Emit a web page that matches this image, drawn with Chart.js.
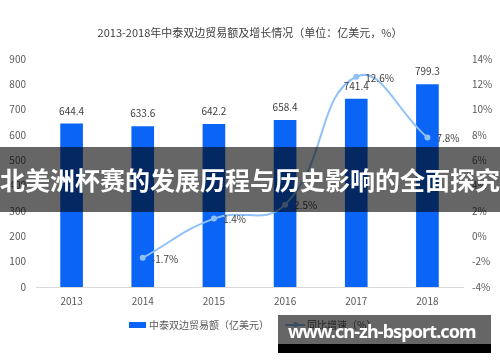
<!DOCTYPE html>
<html>
<head>
<meta charset="utf-8">
<script src="https://cdn.jsdelivr.net/npm/chart.js@4.4.1/dist/chart.umd.min.js"></script>
<style>
  html, body { margin: 0; padding: 0; background: #fff; }
  #wrap { position: relative; width: 500px; height: 362px; overflow: hidden; font-family: "Noto Sans CJK SC", "Noto Sans", sans-serif; }
  #chart { position: absolute; left: 0; top: 0; }
  .legend { position: absolute; top: 317px; font-size: 10px; color: #595959; white-space: nowrap; display: flex; align-items: center; }
  .legend .box { display: inline-block; width: 17px; height: 6px; background: #0a64f5; margin-right: 3px; }
  .legend .ln { display: inline-block; position: relative; width: 20px; height: 2px; background: #8ec1f9; margin-right: 2px; }
  .legend .ln::after { content: ""; position: absolute; left: 8px; top: -1.5px; width: 5px; height: 5px; border-radius: 50%; background: #8ec1f9; }
  .band { position: absolute; left: 0; top: 147px; width: 500px; height: 65px; background: rgba(0,0,0,0.6); }
  .band span { position: absolute; left: 0; right: 0; top: 16px; text-align: center; color: #fff; font-size: 25px; font-weight: 700; line-height: 32px; white-space: nowrap; }
  .site { position: absolute; left: 278px; top: 315px; width: 213px; height: 29px; background: rgba(0,0,0,0.6); }
  .site span { position: absolute; left: 10px; top: 4px; color: #fff; font-family: "Noto Sans", sans-serif; font-size: 18px; letter-spacing: -0.9px; font-weight: 700; line-height: 24px; white-space: nowrap; }
  .site-foot { position: absolute; left: 278px; top: 344px; width: 213px; height: 9px; background: #000; }
</style>
</head>
<body>
<div id="wrap">
  <canvas id="chart" width="500" height="362"></canvas>
  <div class="legend" style="left:129px"><span class="box"></span>中泰双边贸易额（亿美元）</div>
  <div class="legend" style="left:285px"><span class="ln"></span>同比增速（%）</div>
  <div class="band"><span>北美洲杯赛的发展历程与历史影响的全面探究</span></div>
  <div class="site"><span>www.cn-zh-bsport.com</span></div>
  <div class="site-foot"></div>
</div>
<script>
"use strict";

const YEARS = ["2013", "2014", "2015", "2016", "2017", "2018"];
const TRADE = [644.4, 633.6, 642.2, 658.4, 741.4, 799.3];
const GROWTH = [null, -1.7, 1.4, 2.5, 12.6, 7.8];

const BAR_BLUE = "#0a64f5";
const LINE_BLUE = "#8ec1f9";
const TEXT = "#595959";
const FONT = "'Noto Sans CJK SC', 'Noto Sans', sans-serif";

// value labels above bars and to the right of line points
const valueLabels = {
  id: "valueLabels",
  afterDatasetsDraw(chart) {
    const ctx = chart.ctx;
    ctx.save();
    ctx.font = "10px " + FONT;
    ctx.fillStyle = "#404040";
    ctx.textBaseline = "middle";
    chart.getDatasetMeta(1).data.forEach((bar, i) => {
      ctx.textAlign = "center";
      ctx.fillText(TRADE[i].toFixed(1), bar.x, bar.y - 13);
    });
    chart.getDatasetMeta(0).data.forEach((pt, i) => {
      if (GROWTH[i] == null) return;
      ctx.textAlign = "left";
      ctx.fillText(GROWTH[i].toFixed(1) + "%", pt.x + 9, pt.y + 1);
    });
    ctx.restore();
  },
};

new Chart(document.getElementById("chart"), {
  data: {
    labels: YEARS,
    datasets: [
      {
        type: "line",
        label: "同比增速（%）",
        data: GROWTH,
        yAxisID: "y1",
        borderColor: LINE_BLUE,
        backgroundColor: LINE_BLUE,
        borderWidth: 2,
        pointRadius: 3,
        pointBackgroundColor: LINE_BLUE,
        pointBorderWidth: 0,
        tension: 0.45,
        order: 0,
      },
      {
        type: "bar",
        label: "中泰双边贸易额（亿美元）",
        data: TRADE,
        yAxisID: "y",
        backgroundColor: BAR_BLUE,
        barThickness: 22,
        order: 1,
      },
    ],
  },
  options: {
    responsive: false,
    animation: false,
    layout: { padding: 0 },
    plugins: {
      legend: { display: false },
      tooltip: { enabled: false },
      title: {
        display: true,
        text: "2013-2018年中泰双边贸易额及增长情况（单位：亿美元，%）",
        color: "#404040",
        font: { family: FONT, size: 11, weight: "normal" },
        padding: { top: 26, bottom: 19.8 },
      },
    },
    scales: {
      x: {
        grid: { display: false, drawTicks: false },
        border: { display: true, color: "#d9d9d9" },
        ticks: { color: TEXT, font: { family: FONT, size: 10 }, padding: 8 },
        afterFit(s) { s.height = 75; },
      },
      y: {
        position: "left",
        min: 0,
        max: 900,
        grid: { display: false, drawTicks: false },
        border: { display: false },
        ticks: { stepSize: 100, color: TEXT, font: { family: FONT, size: 10 }, padding: 10 },
        afterFit(s) { s.width = 36; },
      },
      y1: {
        position: "right",
        min: -4,
        max: 14,
        grid: { display: false, drawTicks: false },
        border: { display: false },
        ticks: { stepSize: 2, color: TEXT, font: { family: FONT, size: 10 }, padding: 9, callback: (v) => v + "%" },
        afterFit(s) { s.width = 37; },
      },
    },
  },
  plugins: [valueLabels],
});
</script>
</body>
</html>
